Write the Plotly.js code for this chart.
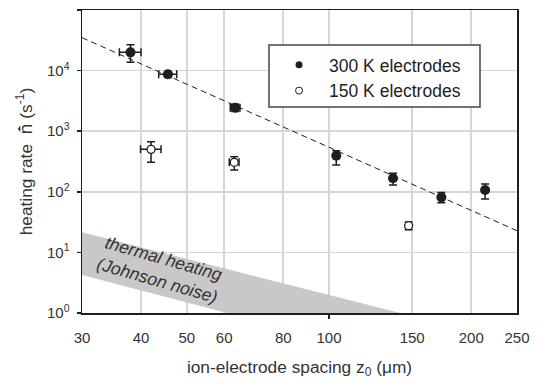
<!DOCTYPE html>
<html>
<head>
<meta charset="utf-8">
<script src="https://cdn.plot.ly/plotly-3.0.1.min.js"></script>
<style>html,body{margin:0;padding:0;background:#fff;}#chart{width:538px;height:385px;}</style>
</head>
<body>
<div id="chart"></div>
<script>
// 300 K electrodes
const warmZ = [38.0, 45.6, 63.3, 103.6, 136.6, 172.9, 214];
const warmRate = [20000, 8700, 2440, 394, 167, 81, 107];
const warmRatePlus = [6700, 1000, 350, 82, 35, 16, 28];
const warmRateMinus = [6300, 1000, 330, 117, 38, 15, 31];
const warmZErr = [2.0, 2.0, 1.5, 0, 0, 0, 0];
// 150 K electrodes
const coldZ = [42.0, 63.0, 147.4];
const coldRate = [502, 307, 27.6];
const coldRatePlus = [169, 73, 4];
const coldRateMinus = [195, 78, 4];
const coldZErr = [2.1, 1.5, 0];
// dashed power-law fit
const fitZ = [30, 250];
const fitRate = [34900, 22.8];
// thermal (Johnson noise) band
const bandZ = [30, 141.6, 60.8, 30];
const bandRate = [21.5, 1, 1, 4.24];
const xTicks = [30, 40, 50, 60, 80, 100, 150, 200, 250];
const yTicks = [1, 10, 100, 1000, 10000, 100000];
const yTickText = ['10<sup>0</sup>', '10<sup>1</sup>', '10<sup>2</sup>', '10<sup>3</sup>', '10<sup>4</sup>', '10<sup>5</sup>'];

const ink = '#1e1e1e';
const FONT = 'Liberation Sans, Arial, sans-serif';

const traces = [
  {x: bandZ, y: bandRate, mode: 'lines', fill: 'toself', fillcolor: '#c8c8c8',
   line: {width: 0, color: 'rgba(0,0,0,0)'}, showlegend: false, hoverinfo: 'skip'},
  {x: fitZ, y: fitRate, mode: 'lines', line: {color: ink, width: 1, dash: '6px,4px'},
   showlegend: false},
  {x: warmZ, y: warmRate, mode: 'markers', showlegend: false,
   marker: {symbol: 'circle', size: 10, color: ink},
   error_y: {type: 'data', symmetric: false, array: warmRatePlus, arrayminus: warmRateMinus,
             color: ink, thickness: 1.5, width: 4},
   error_x: {type: 'data', array: warmZErr, color: ink, thickness: 1.5, width: 4}},
  {x: coldZ, y: coldRate, mode: 'markers', showlegend: false,
   marker: {symbol: 'circle', size: 8, color: '#ffffff', line: {color: ink, width: 1.3}},
   error_y: {type: 'data', symmetric: false, array: coldRatePlus, arrayminus: coldRateMinus,
             color: ink, thickness: 1.5, width: 4},
   error_x: {type: 'data', array: coldZErr, color: ink, thickness: 1.5, width: 4}},
  {x: [null], y: [null], mode: 'markers', name: '300 K electrodes',
   marker: {symbol: 'circle', size: 7, color: ink}},
  {x: [null], y: [null], mode: 'markers', name: '150 K electrodes',
   marker: {symbol: 'circle', size: 7, color: '#ffffff', line: {color: ink, width: 1}}},
  {x: [100], y: [null], xaxis: 'x2', mode: 'markers', showlegend: false, hoverinfo: 'skip'}
];

const NB = '\u00a0';
const layout = {
  width: 538, height: 385,
  margin: {l: 82, r: 21, t: 10, b: 72},
  paper_bgcolor: '#ffffff', plot_bgcolor: '#ffffff',
  font: {family: FONT, size: 15, color: '#333333'},
  showlegend: true,
  legend: {x: 0.43, y: 0.878, xanchor: 'left', yanchor: 'top', bgcolor: 'rgba(0,0,0,0)',
           borderwidth: 0, font: {family: FONT, size: 17.5, color: ink}, itemwidth: 50,
           tracegroupgap: 0},
  xaxis: {type: 'log', range: [Math.log10(30), Math.log10(250)],
          tickmode: 'array', tickvals: xTicks, ticktext: xTicks.map(String),
          ticks: '', showgrid: true, gridcolor: '#d6d6d6', gridwidth: 1.5,
          showline: true, linecolor: ink, linewidth: 1.5, mirror: true,
          zeroline: false, ticklabelstandoff: 10, automargin: false,
          tickfont: {family: FONT, size: 15, color: '#333333'},
          title: {text: 'ion-electrode spacing z<sub>0</sub> (\u03bcm)' + NB.repeat(11), standoff: 16,
                  font: {family: FONT, size: 17.3, color: '#333333'}}},
  xaxis2: {type: 'log', range: [Math.log10(30), Math.log10(250)], overlaying: 'x',
           side: 'bottom', tickmode: 'array', tickvals: [100], ticks: 'outside',
           ticklen: 5, tickwidth: 1.5, tickcolor: ink, showticklabels: false,
           showgrid: false, showline: false, zeroline: false},
  yaxis: {type: 'log', range: [0, 5], tickmode: 'array', tickvals: yTicks, ticktext: yTickText,
          ticks: 'outside', ticklen: 4, tickwidth: 1.5, tickcolor: ink,
          showgrid: true, gridcolor: '#d6d6d6', gridwidth: 1.5,
          showline: true, linecolor: ink, linewidth: 1.5, mirror: true,
          zeroline: false, ticklabelstandoff: 4, automargin: false,
          tickfont: {family: FONT, size: 15, color: '#333333'},
          title: {text: 'heating rate ' + NB + '<span style="font-family:DejaVu Sans">n\u0304\u0307</span> (s<sup>-1</sup>)' + NB.repeat(3),
                  standoff: 10,
                  font: {family: FONT, size: 17.3, color: '#333333'}}},
  shapes: [
    {type: 'rect', xref: 'paper', yref: 'paper',
     x0: (269 - 82) / 435, x1: (480 - 82) / 435, y0: (313 - 107) / 303, y1: (313 - 45) / 303,
     line: {color: '#444444', width: 1.5}, fillcolor: 'rgba(255,255,255,1)', layer: 'above'}
  ],
  annotations: [
    {xref: 'x', yref: 'y', x: Math.log10(43.9), y: 0.71, showarrow: false,
     text: '<i>thermal heating<br>(Johnson noise)</i>', textangle: 16,
     font: {family: FONT, size: 17.5, color: '#333333'}}
  ]
};

Plotly.newPlot('chart', traces, layout, {displayModeBar: false, staticPlot: true});
</script>
</body>
</html>
